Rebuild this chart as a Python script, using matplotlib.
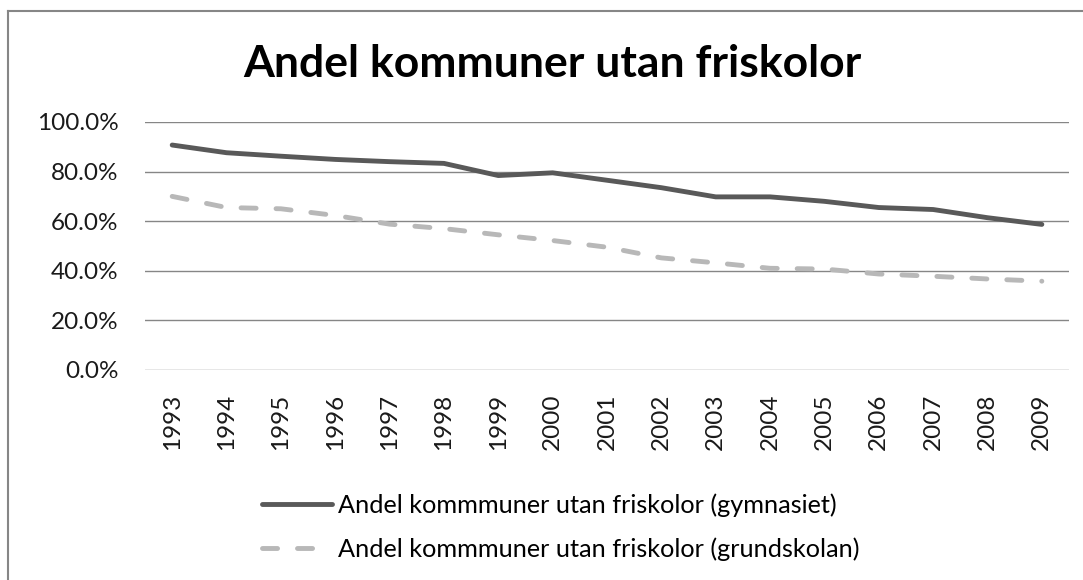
import matplotlib.pyplot as plt
from matplotlib.lines import Line2D
from matplotlib.ticker import FuncFormatter

plt.rcParams['font.family'] = ['Lato', 'DejaVu Sans']

# Data
years = [str(y) for y in range(1993, 2010)]
gymnasiet = [90.7, 87.6, 86.2, 84.9, 84.0, 83.3, 78.4, 79.5, 76.5, 73.5,
             69.8, 69.8, 68.0, 65.5, 64.7, 61.4, 58.7]
grundskolan = [70.0, 65.5, 65.0, 62.3, 58.8, 57.0, 54.5, 52.2, 49.5, 45.2,
               43.2, 41.0, 40.7, 38.7, 37.8, 36.7, 35.8]
labels = ["Andel kommmuner utan friskolor (gymnasiet)",
          "Andel kommmuner utan friskolor (grundskolan)"]

fig = plt.figure(figsize=(10.83, 5.8), dpi=100)
ax = fig.add_axes([0.1339, 0.3621, 0.8532, 0.4276])

x = range(len(years))
ax.plot(x, gymnasiet, color='#595959', lw=3.5, solid_capstyle='round',
        solid_joinstyle='round', label=labels[0])
ax.plot(x, grundskolan, color='#b8b8b8', lw=3.5, dashes=(3.1, 4.1),
        dash_capstyle='round', label=labels[1])

ax.set_xlim(-0.5, len(years) - 0.5)
ax.set_ylim(0, 100)
ax.set_yticks([0, 20, 40, 60, 80, 100])
ax.yaxis.set_major_formatter(FuncFormatter(lambda v, p: f"{v:.1f}%"))
ax.set_xticks(list(x))
ax.set_xticklabels(years, rotation=90)
ax.tick_params(axis='both', length=0, labelsize=17.5, colors='#1a1a1a')
ax.tick_params(axis='y', pad=19)
ax.tick_params(axis='x', pad=17)
ax.grid(axis='y', color='#868686', lw=1)
ax.set_axisbelow(True)
for s in ax.spines.values():
    s.set_visible(False)

fig.text(0.5097, 0.8672, "Andel kommuner utan friskolor", ha='center', va='baseline',
         fontsize=32, fontweight='bold')

fig.legend(loc='center left', bbox_to_anchor=(262 / 1083, 1 - 527 / 580), frameon=False,
           fontsize=18.2, handlelength=2.77, labelspacing=0.8, handletextpad=0.24,
           borderpad=0, borderaxespad=0)

# chart frame (left and top edges visible)
fig.add_artist(Line2D([8 / 1083, 8 / 1083], [0, 1 - 11 / 580], color='#868686', lw=1.5))
fig.add_artist(Line2D([8 / 1083, 1], [1 - 11 / 580, 1 - 11 / 580], color='#868686', lw=1.5))

fig.savefig("out.png", dpi=100)
